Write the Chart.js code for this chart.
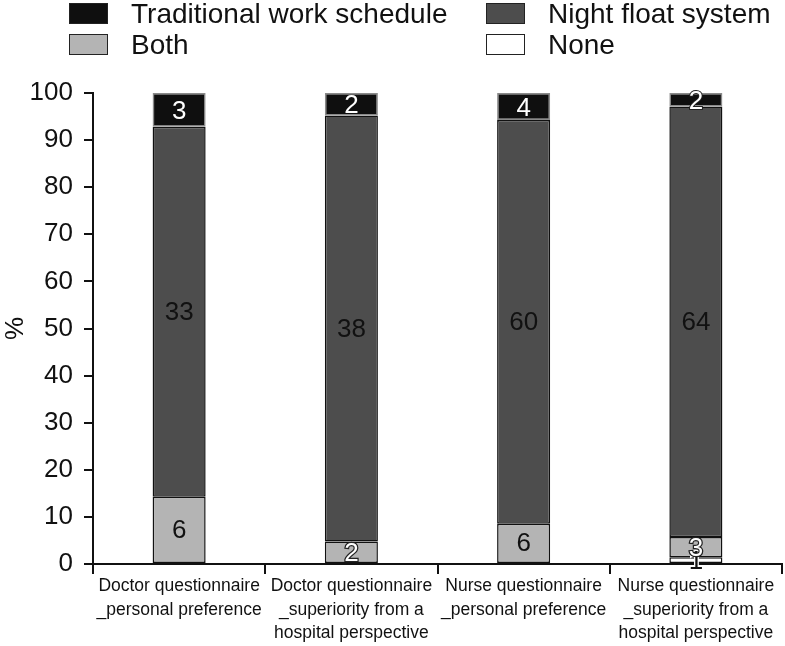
<!DOCTYPE html>
<html>
<head>
<meta charset="utf-8">
<script src="https://cdn.jsdelivr.net/npm/chart.js@4"></script>
<style>
  html, body { margin: 0; padding: 0; background: #fff; }
  #wrap { position: relative; width: 785px; height: 646px; }
  #legend { position: absolute; left: 0; top: 0; width: 785px; height: 62px; font-family: "Liberation Sans", Arial, sans-serif; font-size: 28px; color: #111; }
  .box { position: absolute; width: 37px; height: 19px; border: 1px solid #222; }
  .lbl { position: absolute; line-height: 28px; white-space: nowrap; }
</style>
</head>
<body>
<div id="wrap">
  <canvas id="chart" width="785" height="646"></canvas>
  <div id="legend"></div>
</div>
<script>
// categories (x axis labels, one array of lines per bar)
const categories = [
  ['Doctor questionnaire', '_personal preference'],
  ['Doctor questionnaire', '_superiority from a', 'hospital perspective'],
  ['Nurse questionnaire', '_personal preference'],
  ['Nurse questionnaire', '_superiority from a', 'hospital perspective']
];

// counts per answer
const noneCounts = [0, 0, 0, 1];
const bothCounts = [6, 2, 6, 3];
const nightFloatCounts = [33, 38, 60, 64];
const traditionalCounts = [3, 2, 4, 2];

const yTicks = [0, 10, 20, 30, 40, 50, 60, 70, 80, 90, 100];

// totals per bar -> percentages (empty answers are left out)
const totals = categories.map((c, i) =>
  noneCounts[i] + bothCounts[i] + nightFloatCounts[i] + traditionalCounts[i]);
const pct = arr => arr.map((v, i) => v ? v / totals[i] * 100 : null);

const series = [
  { label: 'None', counts: noneCounts, color: '#ffffff', border: '#111' },
  { label: 'Both', counts: bothCounts, color: '#b4b4b4', border: '#111' },
  { label: 'Night float system', counts: nightFloatCounts, color: '#4d4d4d', border: '#111' },
  { label: 'Traditional work schedule', counts: traditionalCounts, color: '#0f0f0f', border: '#8a8a8a' }
];

// legend in two columns, like the original
const legendOrder = [
  ['Traditional work schedule', 69, 3],
  ['Night float system', 486, 3],
  ['Both', 69, 34],
  ['None', 486, 34]
];
const legendEl = document.getElementById('legend');
legendOrder.forEach(([name, x, y]) => {
  const s = series.find(d => d.label === name);
  const box = document.createElement('div');
  box.className = 'box';
  box.style.left = x + 'px';
  box.style.top = y + 'px';
  box.style.background = s.color;
  legendEl.appendChild(box);
  const t = document.createElement('div');
  t.className = 'lbl';
  t.style.left = (x + 62) + 'px';
  t.style.top = (y - 3) + 'px';
  t.textContent = name;
  legendEl.appendChild(t);
});

// draws the counts inside the segments
const countLabels = {
  id: 'countLabels',
  afterDatasetsDraw(chart) {
    const ctx = chart.ctx;
    ctx.save();
    ctx.font = '26px "Liberation Sans", Arial, sans-serif';
    ctx.textAlign = 'center';
    ctx.textBaseline = 'middle';
    chart.data.datasets.forEach((ds, di) => {
      const meta = chart.getDatasetMeta(di);
      meta.data.forEach((bar, i) => {
        const n = ds.counts[i];
        if (!n) return;
        const h = Math.abs(bar.base - bar.y);
        const cy = (bar.y + bar.base) / 2;
        const label = String(n);
        if (ds.label === 'Traditional work schedule') {
          ctx.lineWidth = 2;
          ctx.strokeStyle = '#222';
          if (h < 20) ctx.strokeText(label, bar.x, cy + 2);
          ctx.fillStyle = '#fff';
          ctx.fillText(label, bar.x, cy + 2);
        } else if (h < 26) {
          ctx.lineWidth = 2.5;
          ctx.strokeStyle = ds.label === 'None' ? '#fff' : '#222';
          ctx.strokeText(label, bar.x, cy + 2);
          ctx.fillStyle = ds.label === 'None' ? '#111' : '#fff';
          ctx.fillText(label, bar.x, cy + 2);
        } else {
          ctx.fillStyle = '#111';
          ctx.fillText(label, bar.x, cy + 1);
        }
      });
    });
    ctx.restore();
  }
};

new Chart(document.getElementById('chart'), {
  type: 'bar',
  data: {
    labels: categories,
    datasets: series.map(s => ({
      label: s.label,
      counts: s.counts,
      data: pct(s.counts),
      backgroundColor: s.color,
      borderColor: s.border,
      borderWidth: 1.5,
      borderSkipped: false,
      categoryPercentage: 1,
      barPercentage: 0.308
    }))
  },
  options: {
    responsive: false,
    animation: false,
    layout: { padding: { top: 93, right: 3, left: 0, bottom: 0 } },
    plugins: {
      legend: { display: false },
      tooltip: { enabled: false }
    },
    scales: {
      x: {
        stacked: true,
        afterFit: axis => { axis.height = 82; },
        grid: { display: true, drawOnChartArea: false, offset: true, tickLength: 10, color: '#111', lineWidth: 2 },
        border: { color: '#111', width: 2 },
        ticks: {
          color: '#111',
          font: { family: '"Liberation Sans", Arial, sans-serif', size: 17.5, lineHeight: 1.33 },
          padding: 1,
          maxRotation: 0,
          autoSkip: false
        }
      },
      y: {
        stacked: true,
        min: 0,
        max: 100,
        afterFit: axis => { axis.width = 93; },
        afterBuildTicks: axis => { axis.ticks = yTicks.map(v => ({ value: v })); },
        grid: { display: true, drawOnChartArea: false, tickLength: 9, color: '#111', lineWidth: 2 },
        border: { color: '#111', width: 2 },
        ticks: {
          color: '#111',
          font: { family: '"Liberation Sans", Arial, sans-serif', size: 26 },
          padding: 11
        },
        title: {
          display: true,
          text: '%',
          color: '#111',
          font: { family: '"Liberation Sans", Arial, sans-serif', size: 26 },
          padding: 0
        }
      }
    }
  },
  plugins: [countLabels]
});
</script>
</body>
</html>
